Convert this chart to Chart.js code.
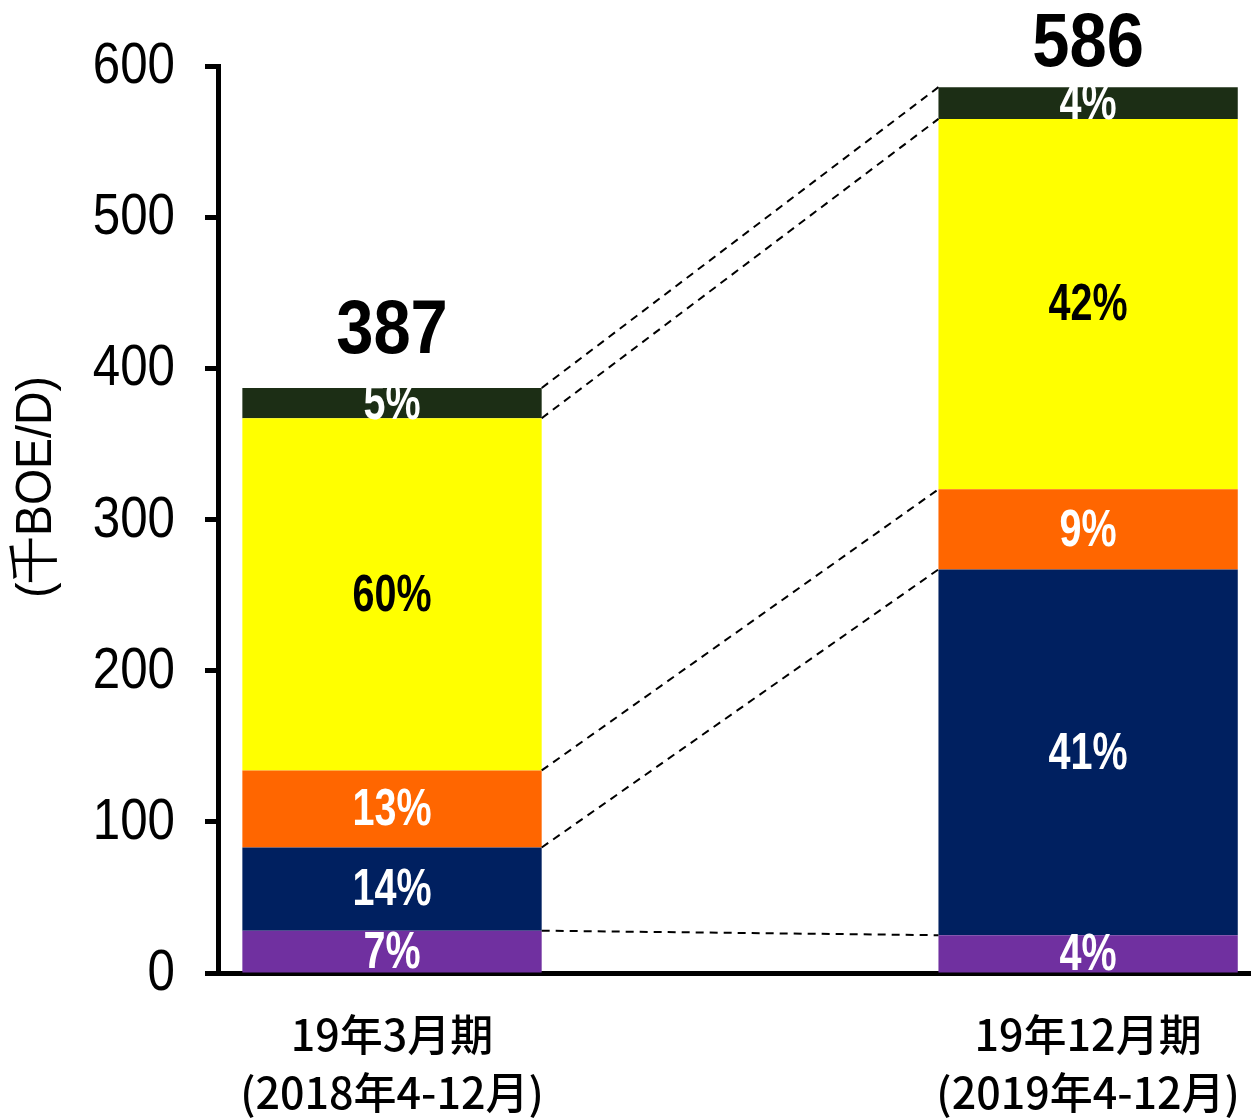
<!DOCTYPE html>
<html>
<head>
<meta charset="utf-8">
<script src="https://cdn.jsdelivr.net/npm/chart.js@4.4.1/dist/chart.umd.min.js"></script>
<style>
html,body{margin:0;padding:0;background:#fff;}
#wrap{width:1251px;height:1118px;position:relative;}
</style>
</head>
<body>
<div id="wrap"><canvas id="myChart"></canvas></div>
<script>
// periods on the x axis (two lines each)
let periods=[["19年3月期","(2018年4-12月)"],["19年12月期","(2019年4-12月)"]];
let xPos=[0,1];
// stacked segments, bottom to top (千BOE/D)
let seg1=[28,25];
let seg2=[55,242];
let seg3=[51,53];
let seg4=[233,245];
let seg5=[20,21];
let yTicks=[0,100,200,300,400,500,600];
let segColors=["#7030a0","#002060","#ff6600","#ffff00","#1c2e15"];
let labelColors=["#fff","#fff","#fff","#000","#fff"];
let yTitle="(千BOE/D)";

let sans='"Liberation Sans",Arial,sans-serif';
let jp='"Noto Sans CJK JP","Noto Sans",sans-serif';

function toPoints(arr){
    return arr.map((v,i)=>({x:xPos[i],y:v}));
}

let allSegs=[seg1,seg2,seg3,seg4,seg5];
let datasets=allSegs.map((s,i)=>({
    data:toPoints(s),
    backgroundColor:segColors[i],
    borderWidth:0,
    barPercentage:1,
    categoryPercentage:0.43
}));

function totalAt(i){
    let t=0;
    allSegs.forEach(s=>{t+=s[i];});
    return t;
}

// narrow text: squeeze the glyphs horizontally
function narrowText(ctx,txt,x,y,sx){
    ctx.save();
    ctx.translate(x,y);
    ctx.scale(sx,1);
    ctx.fillText(txt,0,0);
    ctx.restore();
}

// y tick labels and the rotated unit title
let yLabels={
    id:"yLabels",
    afterDraw(chart){
        let ctx=chart.ctx, sc=chart.scales.y;
        ctx.save();
        ctx.fillStyle="#000";
        ctx.font="58px "+sans;
        ctx.textAlign="right";
        ctx.textBaseline="middle";
        sc.ticks.forEach(t=>{
            narrowText(ctx,String(t.value),175,sc.getPixelForValue(t.value)+1,0.85);
        });
        ctx.translate(37,487);
        ctx.rotate(-Math.PI/2);
        ctx.textAlign="center";
        ctx.font="50px "+sans;
        narrowText(ctx,yTitle,0,0,0.93);
        ctx.restore();
    }
};

// dashed connectors + segment percentages + totals
let overlay={
    id:"overlay",
    afterDatasetsDraw(chart){
        let ctx=chart.ctx;
        let metas=chart.data.datasets.map((d,i)=>chart.getDatasetMeta(i));

        ctx.save();
        ctx.setLineDash([8,6]);
        ctx.lineWidth=2;
        ctx.strokeStyle="#000";
        metas.forEach(m=>{
            let a=m.data[0], b=m.data[1];
            ctx.beginPath();
            ctx.moveTo(a.x+a.width/2,a.y);
            ctx.lineTo(b.x-b.width/2,b.y);
            ctx.stroke();
        });
        ctx.restore();

        ctx.save();
        ctx.textAlign="center";
        ctx.textBaseline="middle";
        ctx.font="bold 52px "+sans;
        metas.forEach((m,di)=>{
            m.data.forEach((el,i)=>{
                let pct=Math.round(allSegs[di][i]/totalAt(i)*100)+"%";
                ctx.fillStyle=labelColors[di];
                narrowText(ctx,pct,el.x,(el.y+el.base)/2+2,0.76);
            });
        });
        let top=metas[metas.length-1];
        ctx.fillStyle="#000";
        ctx.textBaseline="alphabetic";
        ctx.font="bold 76px "+sans;
        top.data.forEach((el,i)=>{
            let by=Math.max(el.y-35,chart.chartArea.top);
            narrowText(ctx,String(totalAt(i)),el.x,by,0.88);
        });
        ctx.restore();
    }
};

new Chart("myChart",{
    type:"bar",
    data:{datasets:datasets},
    plugins:[overlay,yLabels],
    options:{
        responsive:true,
        maintainAspectRatio:false,
        animation:false,
        layout:{padding:{top:66,right:0,left:0,bottom:0}},
        plugins:{legend:{display:false},tooltip:{enabled:false}},
        scales:{
            x:{
                type:"linear",
                offset:false,
                min:-0.25,
                max:1.234,
                stacked:true,
                afterBuildTicks(scale){
                    scale.ticks=xPos.map(v=>({value:v}));
                },
                afterFit(scale){
                    scale.height=145;
                    scale.paddingLeft=0;
                    scale.paddingRight=0;
                },
                grid:{display:false,drawTicks:false,offset:false},
                border:{display:true,color:"#000",width:5},
                ticks:{
                    maxRotation:0,
                    autoSkip:false,
                    padding:32,
                    color:"#000",
                    font:{family:jp,size:43,weight:"500",lineHeight:1.36},
                    callback:(v)=>periods[xPos.indexOf(v)]
                }
            },
            y:{
                stacked:true,
                min:0,
                max:600,
                afterBuildTicks(scale){
                    scale.ticks=yTicks.map(v=>({value:v}));
                },
                afterFit(scale){ scale.width=218; },
                grid:{drawOnChartArea:false,drawTicks:true,tickLength:13,tickWidth:5,tickColor:"#000"},
                border:{display:true,color:"#000",width:5},
                ticks:{display:false}
            }
        }
    }
});
</script>
</body>
</html>
